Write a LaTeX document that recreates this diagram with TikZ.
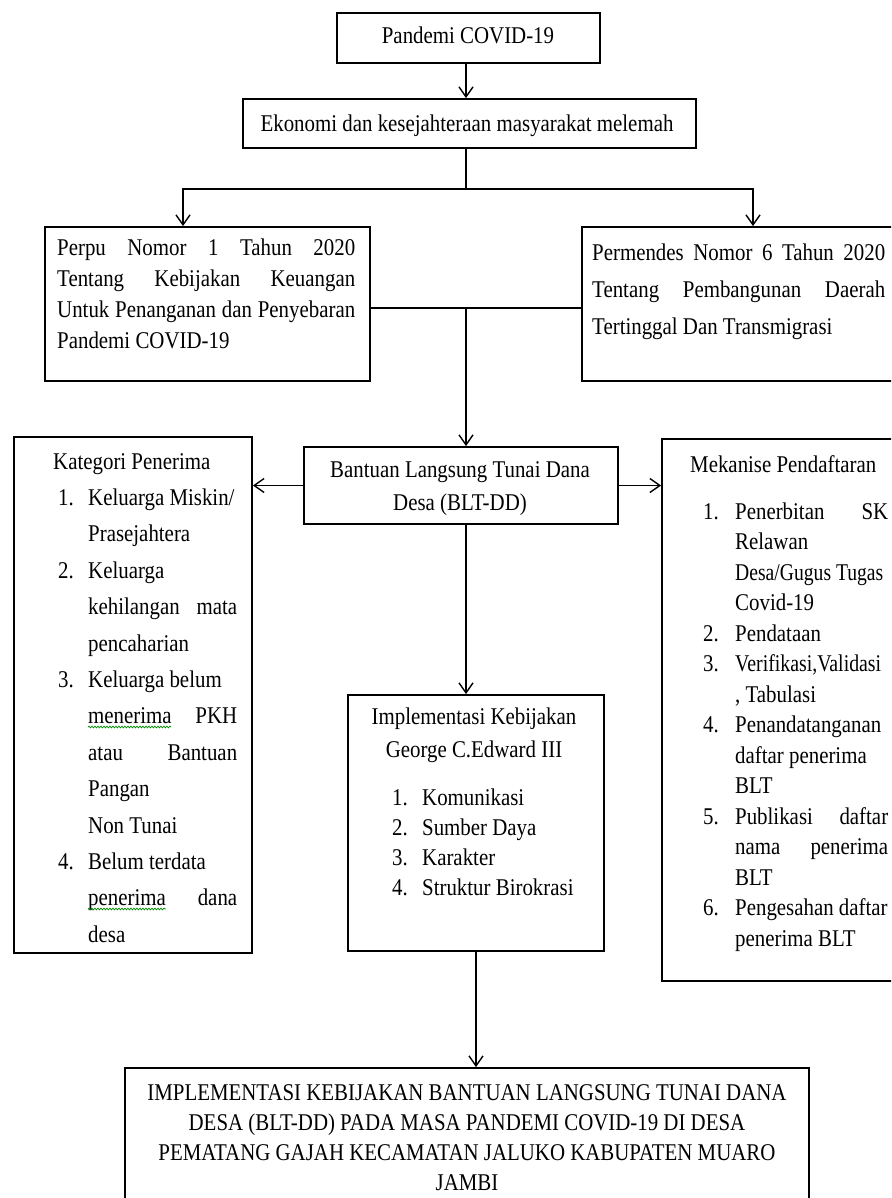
\documentclass[tikz,border=0pt]{standalone}
\usepackage{fontspec}
\usepackage{graphicx}
\setmainfont{Liberation Serif}[FakeStretch=0.87]
\usetikzlibrary{arrows.meta,decorations.pathmorphing}
\newcommand{\fsz}[1]{\fontsize{24pt}{#1pt}\selectfont}
\newcommand{\jl}[2]{\makebox[#1pt][s]{#2}}
\newcommand{\nm}[2]{\makebox[#1pt][l]{#2}}
\begin{document}
\begin{tikzpicture}[x=1pt,y=-1pt,
  box/.style={draw=black, line width=1.8pt, inner sep=0pt},
  conn/.style={line width=1.6pt, draw=black},
  arr/.style={conn, -{Straight Barb[length=10pt,width=14pt,line width=1.4pt]}},
  txt/.style={inner sep=0pt, text=black},
  squig/.style={draw=green!55!black, line width=0.7pt, decorate,
    decoration={snake, amplitude=0.9pt, segment length=3pt}}]
\useasboundingbox (0,0) rectangle (891,1198);
\fill[white] (0,0) rectangle (891,1198);
\clip (0,0) rectangle (891,1198);

% boxes
\node[box, minimum width=263pt, minimum height=50pt] (T) at (468.5,38) {};
\node[box, minimum width=453pt, minimum height=49pt] (E) at (469.5,123.5) {};
\node[box, minimum width=325pt, minimum height=154pt] (P) at (207.5,304) {};
\node[box, minimum width=328pt, minimum height=154pt] (Q) at (746,304) {};
\node[box, minimum width=314pt, minimum height=77pt] (B) at (461,485.5) {};
\node[box, minimum width=238pt, minimum height=516pt] (K) at (133,695) {};
\node[box, minimum width=248pt, minimum height=542pt] (M) at (786,710) {};
\node[box, minimum width=256pt, minimum height=256pt] (I) at (476,823) {};
\node[box, minimum width=684pt, minimum height=162pt] (F) at (467,1149) {};

% texts
\node[txt, anchor=base] (Tt) at (468,44) {\fsz{30}Pandemi COVID-19};
\node[txt, anchor=base] (Et) at (467,132) {\fsz{30}Ekonomi dan kesejahteraan masyarakat melemah};

\node[txt, anchor=base west] (Pt) at (57,255) {\parbox[t]{298pt}{\fsz{31.3}%
\jl{298}{Perpu Nomor 1 Tahun 2020}\\
\jl{298}{Tentang Kebijakan Keuangan}\\
\jl{298}{Untuk Penanganan dan Penyebaran}\\
Pandemi COVID-19}};

\node[txt, anchor=base west] (Qt) at (592,260) {\parbox[t]{293pt}{\fsz{37}%
\jl{293}{Permendes Nomor 6 Tahun 2020}\\
\jl{293}{Tentang Pembangunan Daerah}\\
Tertinggal Dan Transmigrasi}};

\node[txt, anchor=base] (Bt) at (460,477) {\parbox[t]{310pt}{\centering\fsz{33}%
Bantuan Langsung Tunai Dana\\
Desa (BLT-DD)}};

\node[txt, anchor=base west] (Kt) at (53,469) {\parbox[t]{195pt}{\fsz{36.4}%
Kategori Penerima\\
\hspace*{5pt}\nm{30}{1.}Keluarga Miskin/\\
\hspace*{35pt}Prasejahtera\\
\hspace*{5pt}\nm{30}{2.}Keluarga\\
\hspace*{35pt}\jl{149}{kehilangan mata}\\
\hspace*{35pt}pencaharian\\
\hspace*{5pt}\nm{30}{3.}Keluarga belum\\
\hspace*{35pt}\jl{149}{menerima PKH}\\
\hspace*{35pt}\jl{149}{atau Bantuan}\\
\hspace*{35pt}Pangan\\
\hspace*{35pt}Non Tunai\\
\hspace*{5pt}\nm{30}{4.}Belum terdata\\
\hspace*{35pt}\jl{149}{penerima dana}\\
\hspace*{35pt}desa}};

\node[txt, anchor=base west] (Mt) at (690,472) {\parbox[t]{220pt}{\fsz{30.5}%
Mekanise Pendaftaran\\[16.5pt]
\hspace*{13pt}\nm{32}{1.}\jl{153}{Penerbitan SK}\\
\hspace*{45pt}Relawan\\
\hspace*{45pt}\scalebox{0.94}[1]{Desa/Gugus Tugas}\\
\hspace*{45pt}Covid-19\\
\hspace*{13pt}\nm{32}{2.}Pendataan\\
\hspace*{13pt}\nm{32}{3.}\scalebox{0.95}[1]{Verifikasi,Validasi}\\
\hspace*{45pt}, Tabulasi\\
\hspace*{13pt}\nm{32}{4.}Penandatanganan\\
\hspace*{45pt}daftar penerima\\
\hspace*{45pt}BLT\\
\hspace*{13pt}\nm{32}{5.}\jl{153}{Publikasi daftar}\\
\hspace*{45pt}\jl{153}{nama penerima}\\
\hspace*{45pt}BLT\\
\hspace*{13pt}\nm{32}{6.}Pengesahan daftar\\
\hspace*{45pt}penerima BLT}};

\node[txt, anchor=base] (It) at (474,724) {\parbox[t]{250pt}{\centering\fsz{33}%
Implementasi Kebijakan\\
George C.Edward III}};
\node[txt, anchor=base west] (Il) at (392,805) {\parbox[t]{205pt}{\fsz{30}%
\nm{30}{1.}Komunikasi\\
\nm{30}{2.}Sumber Daya\\
\nm{30}{3.}Karakter\\
\nm{30}{4.}Struktur Birokrasi}};

\node[txt, anchor=base] (Ft) at (467,1100) {\parbox[t]{700pt}{\centering\fsz{30.3}%
IMPLEMENTASI KEBIJAKAN BANTUAN LANGSUNG TUNAI DANA\\
DESA (BLT-DD) PADA MASA PANDEMI COVID-19 DI DESA\\
PEMATANG GAJAH KECAMATAN JALUKO KABUPATEN MUARO\\
JAMBI}};

% spell-check squiggles
\coordinate (s1a) at (88,727); \coordinate (s1b) at (171,727);
\coordinate (s2a) at (88,909); \coordinate (s2b) at (166,909);
\draw[squig] (s1a) -- (s1b);
\draw[squig] (s2a) -- (s2b);

% connectors
\coordinate (jc) at (466,189);
\coordinate (jl) at (183,189);
\coordinate (jr) at (753,189);
\coordinate (jm) at (466,308);
\draw[arr] (T.south -| jc) -- (jc |- E.north);
\draw[conn] (E.south -| jc) -- (jc);
\draw[conn, line cap=rect] (jl) -- (jr);
\draw[arr] (jl) -- (jl |- P.north);
\draw[arr] (jr) -- (jr |- Q.north);
\draw[conn] (P.east |- jm) -- (Q.west |- jm);
\draw[arr] (jm) -- (jm |- B.north);
\draw[arr] (B.west) -- (K.east |- B.west);
\draw[arr] (B.east) -- (M.west |- B.east);
\draw[arr] (B.south -| jm) -- (jm |- I.north);
\draw[arr] (I.south) -- (I.south |- F.north);
\end{tikzpicture}
\end{document}
